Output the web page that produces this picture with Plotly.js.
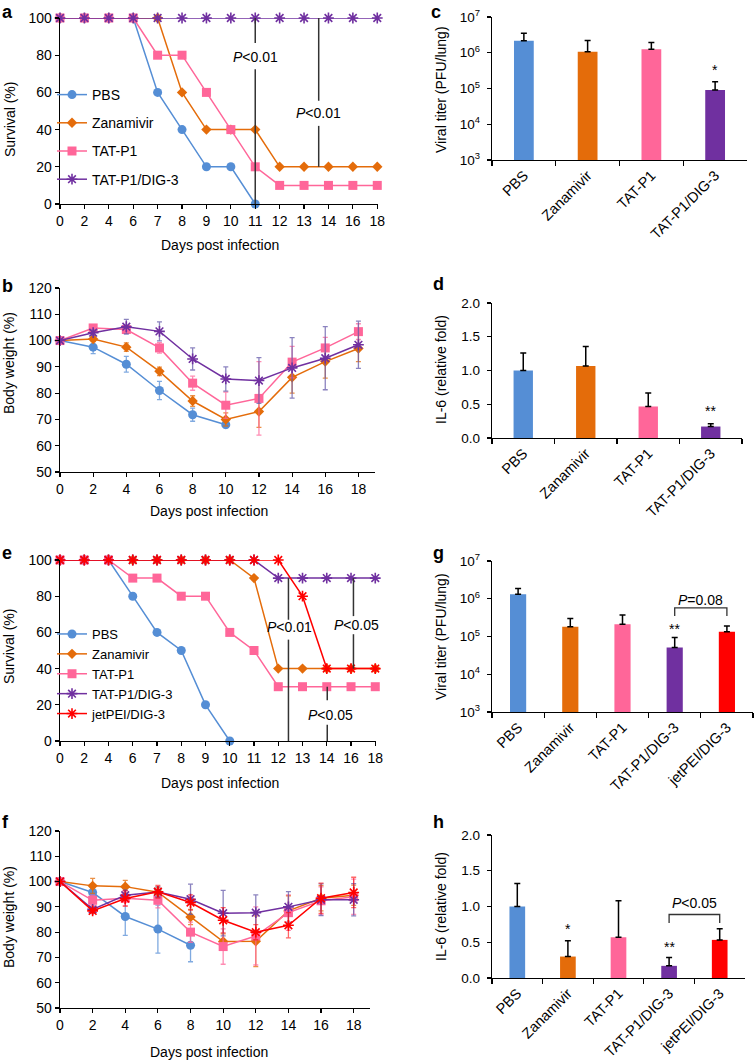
<!DOCTYPE html>
<html>
<head>
<meta charset="utf-8">
<script src="https://cdn.plot.ly/plotly-3.0.1.min.js"></script>
<style>body{margin:0;background:#fff}#chart{width:754px;height:1061px}</style>
</head>
<body>
<div id="chart"></div>
<script>
// survival panels (a, e): ordinal day axis
let survDays = ['0','2','4','6','7','8','9','10','11','12','13','14','16','18']
let survIdx = survDays.map((d, i) => i)

let aPBS = [100,100,100,100,60,40,20,20,0]
let aZan = [100,100,100,100,100,60,40,40,40,20,20,20,20,20]
let aTat = [100,100,100,100,80,80,60,40,20,10,10,10,10,10]
let aDig = [100,100,100,100,100,100,100,100,100,100,100,100,100,100]

let ePBS = [100,100,100,80,60,50,20,0]
let eZan = [100,100,100,100,100,100,100,100,90,40,40,40,40,40]
let eTat = [100,100,100,90,90,80,80,60,50,30,30,30,30,30]
let eDig = [100,100,100,100,100,100,100,100,100,90,90,90,90,90]
let eJet = [100,100,100,100,100,100,100,100,100,100,80,40,40,40]

// body weight panels (b, f)
let wDays = [0,2,4,6,8,10,12,14,16,18]
let bPBS = [100,97.5,91,81,71.8,68]
let bPBSErr = [0,2.5,3,3.5,2.5,1.2]
let bZan = [100,100.6,97.5,88.3,77,70,73,86,92,97]
let bZanErr = [0,1,1.6,1.6,2,2.5,6,6,6.3,5]
let bTat = [100,104.8,104.2,97.2,83.8,75.4,78,91.8,97.2,103.4]
let bTatErr = [0,1,1,2,2.7,5,14,6,4,3]
let bDig = [100,103,105.3,103.5,93,85.4,84.8,89.6,93.3,98.4]
let bDigErr = [0,1,2.8,3.6,4.2,4.6,8.7,11.5,12,9]

let fPBS = [100,95.7,86.2,81.2,74.8]
let fPBSErr = [0,1.5,7.5,9.5,6.5]
let fZan = [100,98.3,98,95.8,86,76.3,76.4,88.4,93.4,94.6]
let fZanErr = [0,3,2.5,2,3,3,10,6,5,4]
let fTat = [100,92.6,93.4,92.6,80,74.3,78.5,87.7,92.4,94]
let fTatErr = [0,2,3,3,4,7,11.5,7,5.5,7]
let fDig = [100,89,94.6,95.9,93,87.5,87.7,90,92.8,92.8]
let fDigErr = [0,1,2,2,6,9,7,6,6.3,6.4]
let fJet = [100,88.4,93.3,96,91.7,84.7,80,82.7,93.4,95.7]
let fJetErr = [0,1,3,2.5,3,5,3,5,6,6]

// bar panels
let groups4 = ['PBS','Zanamivir','TAT-P1','TAT-P1/DIG-3']
let groups5 = ['PBS','Zanamivir','TAT-P1','TAT-P1/DIG-3','jetPEI/DIG-3']
let cTiter = [2.15e6, 1.07e6, 1.25e6, 9.1e4]
let cErr = [1.35e6, 1.13e6, 0.7e6, 6.4e4]
let dIL6 = [1.0, 1.066, 0.467, 0.17]
let dErr = [0.26, 0.29, 0.2, 0.04]
let gTiter = [1.32e6, 1.8e5, 2.1e5, 5.1e4, 1.33e5]
let gErr = [5.5e5, 1.2e5, 1.6e5, 4.3e4, 5.7e4]
let hIL6 = [1.0, 0.30, 0.57, 0.17, 0.533]
let hErr = [0.32, 0.22, 0.51, 0.115, 0.157]
let gBracket = [3.5e5, 5.7e5]
let hBracket = [0.77, 0.888]

let colors = {
  'PBS': '#558ed5',
  'Zanamivir': '#e46c0a',
  'TAT-P1': '#ff6699',
  'TAT-P1/DIG-3': '#7030a0',
  'jetPEI/DIG-3': '#ff0000'
}
let errColors = {
  'PBS': 'rgba(85,142,213,0.75)',
  'Zanamivir': 'rgba(228,108,10,0.75)',
  'TAT-P1': 'rgba(255,102,153,0.75)',
  'TAT-P1/DIG-3': 'rgba(100,90,170,0.75)',
  'jetPEI/DIG-3': 'rgba(255,0,0,0.6)'
}
let symbols = {
  'PBS': {symbol: 'circle', size: 9},
  'Zanamivir': {symbol: 'diamond', size: 8},
  'TAT-P1': {symbol: 'square', size: 9},
  'TAT-P1/DIG-3': {symbol: 'asterisk-open', size: 9},
  'jetPEI/DIG-3': {symbol: 'asterisk-open', size: 9}
}

const W = 754, H = 1061
const FONT = 'Liberation Sans, Arial, sans-serif'
function xd(a, b) { return [a / W, b / W] }
function yd(top, bottom) { return [1 - bottom / H, 1 - top / H] }

function marker(name) {
  let s = symbols[name]
  return {symbol: s.symbol, size: s.size, color: colors[name],
    line: {color: colors[name], width: s.symbol.indexOf('asterisk') === 0 ? 1.6 : 0}}
}

let data = []

// survival traces
function survTrace(name, ys, xa, ya, leg) {
  return {
    type: 'scatter', mode: 'lines+markers', name: name,
    x: survIdx.slice(0, ys.length), y: ys, xaxis: xa, yaxis: ya,
    line: {color: colors[name], width: 1.5}, marker: marker(name),
    cliponaxis: false, legend: leg, legendgroup: leg + name, hoverinfo: 'skip'
  }
}
data.push(survTrace('PBS', aPBS, 'x', 'y', 'legend'))
data.push(survTrace('Zanamivir', aZan, 'x', 'y', 'legend'))
data.push(survTrace('TAT-P1', aTat, 'x', 'y', 'legend'))
data.push(survTrace('TAT-P1/DIG-3', aDig, 'x', 'y', 'legend'))

data.push(survTrace('PBS', ePBS, 'x5', 'y5', 'legend2'))
data.push(survTrace('Zanamivir', eZan, 'x5', 'y5', 'legend2'))
data.push(survTrace('TAT-P1', eTat, 'x5', 'y5', 'legend2'))
data.push(survTrace('TAT-P1/DIG-3', eDig, 'x5', 'y5', 'legend2'))
data.push(survTrace('jetPEI/DIG-3', eJet, 'x5', 'y5', 'legend2'))

// weight traces
function weightTrace(name, ys, errs, xa, ya) {
  return {
    type: 'scatter', mode: 'lines+markers', name: name, showlegend: false,
    x: wDays.slice(0, ys.length), y: ys, xaxis: xa, yaxis: ya,
    line: {color: colors[name], width: 1.5}, marker: marker(name),
    error_y: {type: 'data', array: errs, color: errColors[name], thickness: 1.3, width: 2.5},
    cliponaxis: false, hoverinfo: 'skip'
  }
}
data.push(weightTrace('PBS', bPBS, bPBSErr, 'x2', 'y2'))
data.push(weightTrace('Zanamivir', bZan, bZanErr, 'x2', 'y2'))
data.push(weightTrace('TAT-P1', bTat, bTatErr, 'x2', 'y2'))
data.push(weightTrace('TAT-P1/DIG-3', bDig, bDigErr, 'x2', 'y2'))

data.push(weightTrace('PBS', fPBS, fPBSErr, 'x6', 'y6'))
data.push(weightTrace('Zanamivir', fZan, fZanErr, 'x6', 'y6'))
data.push(weightTrace('TAT-P1', fTat, fTatErr, 'x6', 'y6'))
data.push(weightTrace('TAT-P1/DIG-3', fDig, fDigErr, 'x6', 'y6'))
data.push(weightTrace('jetPEI/DIG-3', fJet, fJetErr, 'x6', 'y6'))

// bar traces
function barTrace(cats, vals, errs, xa, ya) {
  return {
    type: 'bar', x: cats, y: vals, xaxis: xa, yaxis: ya, showlegend: false,
    width: 0.31, marker: {color: cats.map(c => colors[c]), line: {width: 0}},
    error_y: {type: 'data', symmetric: false, array: errs, arrayminus: errs.map(() => 0),
      color: '#000', thickness: 1.5, width: 3},
    hoverinfo: 'skip'
  }
}
data.push(barTrace(groups4, cTiter, cErr, 'x3', 'y3'))
data.push(barTrace(groups4, dIL6, dErr, 'x4', 'y4'))
data.push(barTrace(groups5, gTiter, gErr, 'x7', 'y7'))
data.push(barTrace(groups5, hIL6, hErr, 'x8', 'y8'))

// significance brackets
function bracket(a, b, lv, xa, ya) {
  return {type: 'scatter', mode: 'lines', x: [a, a, b, b], y: [lv[0], lv[1], lv[1], lv[0]],
    xaxis: xa, yaxis: ya, showlegend: false, hoverinfo: 'skip',
    line: {color: '#333', width: 1.3}, cliponaxis: false}
}
data.push(bracket('TAT-P1/DIG-3', 'jetPEI/DIG-3', gBracket, 'x7', 'y7'))
data.push(bracket('TAT-P1/DIG-3', 'jetPEI/DIG-3', hBracket, 'x8', 'y8'))

function axis(extra) {
  return Object.assign({
    showline: true, linecolor: '#000', linewidth: 1.3,
    ticks: 'outside', ticklen: 4, tickwidth: 1.2, tickcolor: '#000',
    showgrid: false, zeroline: false, fixedrange: true,
    tickfont: {family: FONT, size: 14, color: '#000'}
  }, extra)
}
function survX(dom, anchor) {
  return axis({domain: dom, anchor: anchor, range: [0, 13.03],
    tickmode: 'array', tickvals: survIdx, ticktext: survDays})
}
function weightX(dom, anchor) {
  return axis({domain: dom, anchor: anchor, range: [0, 19], tickmode: 'array', tickvals: wDays})
}
function barX(dom, anchor, cats) {
  return axis({domain: dom, anchor: anchor, type: 'category', categoryarray: cats,
    range: [-0.5, cats.length - 0.5], tickson: 'boundaries', ticklen: 5, tickangle: -45,
    tickfont: {family: FONT, size: 14.5, color: '#000'}})
}
let logTicks = [1e3, 1e4, 1e5, 1e6, 1e7]
function logY(dom, anchor) {
  return axis({domain: dom, anchor: anchor, type: 'log', range: [3, 7],
    tickmode: 'array', tickvals: logTicks, ticktext: logTicks.map(v => '10<sup>' + Math.log10(v) + '</sup>'),
    ticklabelstandoff: 4, tickfont: {family: FONT, size: 13.5, color: '#000'}})
}
function il6Y(dom, anchor) {
  return axis({domain: dom, anchor: anchor, range: [0, 2], dtick: 0.5, tickformat: '.1f',
    ticklabelstandoff: 4, tickfont: {family: FONT, size: 13.5, color: '#000'}})
}

let annotations = []
function paperText(text, x, y, opts) {
  annotations.push(Object.assign({text: text, xref: 'paper', yref: 'paper', x: x / W, y: 1 - y / H,
    showarrow: false, xanchor: 'center', yanchor: 'middle',
    font: {family: FONT, size: 14, color: '#000'}}, opts || {}))
}
function dataText(text, x, y, xa, ya, size) {
  annotations.push({text: text, xref: xa, yref: ya, x: x, y: y, showarrow: false,
    xanchor: 'center', yanchor: 'middle', font: {family: FONT, size: size || 14, color: '#000'}})
}

// panel letters
let letters = [['a', 0, 0], ['b', 0, 274], ['c', 429, 0], ['d', 431, 272],
  ['e', 0, 541], ['f', 0, 810], ['g', 431, 541], ['h', 431, 810]]
letters.forEach(l => paperText('<b>' + l[0] + '</b>', l[1], l[2],
  {xanchor: 'left', yanchor: 'top', font: {family: FONT, size: 18, color: '#000'}}))

// axis titles
let yTitles = [['Survival (%)', 10, 120], ['Body weight (%)', 9, 363],
  ['Viral titer (PFU/lung)', 441, 90], ['IL-6 (relative fold)', 441, 370],
  ['Survival (%)', 9, 647], ['Body weight (%)', 9, 917],
  ['Viral titer (PFU/lung)', 441, 637], ['IL-6 (relative fold)', 441, 907]]
yTitles.forEach(t => paperText(t[0], t[1], t[2], {textangle: -90}))
let xTitles = [[220, 245], [209, 511], [220, 783], [209, 1052]]
xTitles.forEach(t => paperText('Days post infection', t[0], t[1]))

// P values and significance marks
dataText('<i>P</i>&lt;0.01', 8, 79, 'x', 'y')
dataText('<i>P</i>&lt;0.01', 10.6, 49, 'x', 'y')
dataText('<i>P</i>&lt;0.01', 9.45, 63, 'x5', 'y5')
dataText('<i>P</i>&lt;0.05', 12.22, 64, 'x5', 'y5')
dataText('<i>P</i>&lt;0.05', 11.14, 14.5, 'x5', 'y5')
dataText('*', 3, 5.52, 'x3', 'y3')
dataText('**', 3, 0.40, 'x4', 'y4')
dataText('**', 3, 5.20, 'x7', 'y7')
dataText('<i>P</i>=0.08', 3.5, 5.97, 'x7', 'y7')
dataText('*', 1, 0.68, 'x8', 'y8')
dataText('**', 3, 0.43, 'x8', 'y8')
dataText('<i>P</i>&lt;0.05', 3.5, 1.05, 'x8', 'y8')

// survival comparison lines (broken where the label sits)
let pLines = [
  ['x', 'y', 8, 100, 86.5], ['x', 'y', 8, 72.5, 0],
  ['x', 'y', 10.6, 100, 55.5], ['x', 'y', 10.6, 42, 20],
  ['x5', 'y5', 9.42, 90, 67], ['x5', 'y5', 9.42, 56, 0],
  ['x5', 'y5', 12.1, 90, 69], ['x5', 'y5', 12.1, 59, 40],
  ['x5', 'y5', 11.02, 30, 22.5], ['x5', 'y5', 11.02, 9, 0]
]
let shapes = pLines.map(p => ({type: 'line', xref: p[0], yref: p[1], x0: p[2], x1: p[2],
  y0: p[3], y1: p[4], line: {color: '#333', width: 1.5}}))

let layout = {
  width: W, height: H, margin: {l: 0, r: 0, t: 0, b: 0},
  paper_bgcolor: '#fff', plot_bgcolor: 'rgba(0,0,0,0)',
  font: {family: FONT, size: 14, color: '#000'},
  xaxis: survX(xd(60, 378), 'y'),
  yaxis: axis({domain: yd(18, 204), anchor: 'x', range: [0, 100], dtick: 20}),
  xaxis2: weightX(xd(60, 375), 'y2'),
  yaxis2: axis({domain: yd(288, 472), anchor: 'x2', range: [50, 120], dtick: 10}),
  xaxis3: barX(xd(492, 747), 'y3', groups4),
  yaxis3: logY(yd(17, 160), 'x3'),
  xaxis4: barX(xd(492, 742), 'y4', groups4),
  yaxis4: il6Y(yd(303, 438), 'x4'),
  xaxis5: survX(xd(60, 376), 'y5'),
  yaxis5: axis({domain: yd(560, 741), anchor: 'x5', range: [0, 100], dtick: 20}),
  xaxis6: weightX(xd(60, 370), 'y6'),
  yaxis6: axis({domain: yd(831, 1008), anchor: 'x6', range: [50, 120], dtick: 10}),
  xaxis7: barX(xd(492, 753), 'y7', groups5),
  yaxis7: logY(yd(561, 712), 'x7'),
  xaxis8: barX(xd(492, 745), 'y8', groups5),
  yaxis8: il6Y(yd(835, 978), 'x8'),
  legend: {x: 52 / W, y: 1 - 79 / H, xanchor: 'left', yanchor: 'top', bgcolor: 'rgba(0,0,0,0)',
    traceorder: 'grouped', tracegroupgap: 7, font: {family: FONT, size: 14, color: '#000'}},
  legend2: {x: 52 / W, y: 1 - 619 / H, xanchor: 'left', yanchor: 'top', bgcolor: 'rgba(0,0,0,0)',
    traceorder: 'grouped', tracegroupgap: 0, font: {family: FONT, size: 13, color: '#000'}},
  bargap: 0.2,
  annotations: annotations,
  shapes: shapes
}

Plotly.newPlot('chart', data, layout, {staticPlot: true, displayModeBar: false})
</script>
</body>
</html>
